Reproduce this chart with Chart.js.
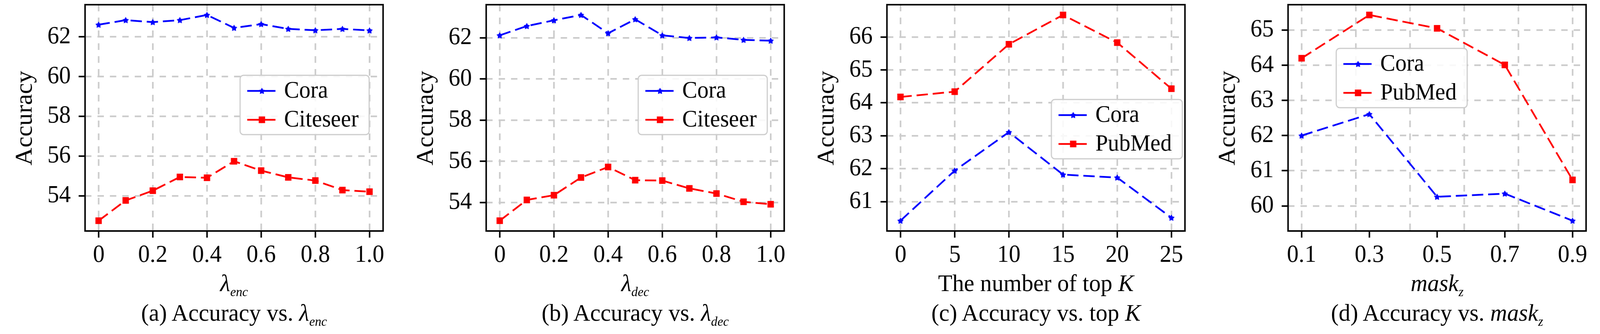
<!DOCTYPE html>
<html>
<head>
<meta charset="utf-8">
<script src="https://cdn.jsdelivr.net/npm/chart.js@4.4.1/dist/chart.umd.min.js"></script>
<style>
@font-face { font-family: "PlotSerif"; font-style: normal; font-weight: 400;
             src: local("Liberation Serif"), local("LiberationSerif"), local("LiberationSerif-Regular"); }
html, body { margin: 0; padding: 0; background: #fff; overflow: hidden; }
#root { position: absolute; left: 0; top: 0; width: 4252px; height: 856px;
        transform-origin: 0 0; background: #fff;
        font-family: "Liberation Serif", serif; color: #000; }
.panel { position: absolute; top: 0; width: 1055px; height: 856px; }
.panel canvas { position: absolute; left: 0; top: 0; }
.txt { position: absolute; left: 226px; width: 792px; text-align: center;
       font-size: 62px; line-height: 62px; white-space: nowrap; }
.xt { top: 694px; }
.cap { top: 770px; }
.sub { font-size: 34px; position: relative; top: 13px; line-height: 0; }
</style>
</head>
<body>
<div id="root">
<div class="panel" style="left:0px">
  <canvas id="ca" width="1055" height="856"></canvas>
  <div class="txt xt"><i>λ</i><i class="sub">enc</i></div>
  <div class="txt cap">(a) Accuracy vs. <i>λ</i><i class="sub">enc</i></div>
</div>
<div class="panel" style="left:1066px">
  <canvas id="cb" width="1055" height="856"></canvas>
  <div class="txt xt"><i>λ</i><i class="sub">dec</i></div>
  <div class="txt cap">(b) Accuracy vs. <i>λ</i><i class="sub">dec</i></div>
</div>
<div class="panel" style="left:2131px">
  <canvas id="cc" width="1055" height="856"></canvas>
  <div class="txt xt">The number of top <i>K</i></div>
  <div class="txt cap">(c) Accuracy vs. top <i>K</i></div>
</div>
<div class="panel" style="left:3197px">
  <canvas id="cd" width="1055" height="856"></canvas>
  <div class="txt xt"><i>mask</i><i class="sub">z</i></div>
  <div class="txt cap">(d) Accuracy vs. <i>mask</i><i class="sub">z</i></div>
</div>
</div>

<script>
// (a) lambda_enc
const xA = [0, 0.1, 0.2, 0.3, 0.4, 0.5, 0.6, 0.7, 0.8, 0.9, 1.0];
const coraA = [62.61, 62.84, 62.74, 62.84, 63.10, 62.45, 62.64, 62.40, 62.33, 62.40, 62.32];
const citeA = [52.75, 53.77, 54.26, 54.95, 54.91, 55.74, 55.27, 54.93, 54.77, 54.29, 54.21];

// (b) lambda_dec
const xB = [0, 0.1, 0.2, 0.3, 0.4, 0.5, 0.6, 0.7, 0.8, 0.9, 1.0];
const coraB = [62.12, 62.57, 62.85, 63.11, 62.22, 62.90, 62.12, 61.99, 62.02, 61.90, 61.86];
const citeB = [53.11, 54.12, 54.35, 55.21, 55.72, 55.08, 55.06, 54.68, 54.43, 54.03, 53.91];

// (c) top K
const xC = [0, 5, 10, 15, 20, 25];
const coraC = [60.42, 61.94, 63.11, 61.82, 61.73, 60.51];
const pubC = [64.18, 64.34, 65.78, 66.67, 65.83, 64.43];

// (d) mask_z
const xD = [0.1, 0.3, 0.5, 0.7, 0.9];
const coraD = [62.00, 62.61, 60.26, 60.35, 59.58];
const pubD = [64.20, 65.43, 65.05, 64.01, 60.74];

// ticks
const lamTicks = [0, 0.2, 0.4, 0.6, 0.8, 1.0];
const lamLabels = ['0', '0.2', '0.4', '0.6', '0.8', '1.0'];
const kTicks = [0, 5, 10, 15, 20, 25];
const kLabels = ['0', '5', '10', '15', '20', '25'];
const maskTicks = [0.1, 0.3, 0.5, 0.7, 0.9];
const maskLabels = ['0.1', '0.3', '0.5', '0.7', '0.9'];
const maskGrid = [0.1, 0.26, 0.42, 0.58, 0.74, 0.9];
const yTicksAB = [54, 56, 58, 60, 62];
const yTicksC = [61, 62, 63, 64, 65, 66];
const yTicksD = [60, 61, 62, 63, 64, 65];

const FAMILY = 'PlotSerif, "Liberation Serif", serif';
const BLUE = '#0000ff';
const RED = '#ff0000';
const GRID = '#cccccc';

// the window may be narrower than the 4252px design, so squeeze it to fit
const root = document.getElementById('root');
root.style.transform = 'scale(' + (window.innerWidth / 4252) + ',' + (window.innerHeight / 856) + ')';

function span(vals) {
  const lo = Math.min(...vals), hi = Math.max(...vals);
  const m = (hi - lo) * 0.05;
  return [lo - m, hi + m];
}

function starImg(color) {
  const c = document.createElement('canvas');
  c.width = c.height = 20;
  const g = c.getContext('2d');
  g.fillStyle = color;
  g.beginPath();
  for (let i = 0; i < 10; i++) {
    const a = -Math.PI / 2 + i * Math.PI / 5;
    const r = i % 2 ? 5 : 9;
    g.lineTo(10 + r * Math.cos(a), 10.8 + r * Math.sin(a));
  }
  g.closePath();
  g.fill();
  return c;
}
const star = starImg(BLUE);

const frameLegend = {
  id: 'frameLegend',
  afterDraw(chart, args, opts) {
    const ctx = chart.ctx, a = chart.chartArea;
    ctx.save();
    ctx.setLineDash([]);
    ctx.lineWidth = 4;
    ctx.strokeStyle = '#000';
    ctx.strokeRect(a.left, a.top, a.right - a.left, a.bottom - a.top);

    const sets = chart.data.datasets;
    ctx.font = '60px ' + FAMILY;
    const tw = Math.max(...sets.map(d => ctx.measureText(d.label).width));
    const x0 = a.left + opts.dx, y0 = a.top + opts.dy;
    const w = 117 + tw + 28, h = 152, r = 9;
    ctx.beginPath();
    ctx.moveTo(x0 + r, y0);
    ctx.arcTo(x0 + w, y0, x0 + w, y0 + h, r);
    ctx.arcTo(x0 + w, y0 + h, x0, y0 + h, r);
    ctx.arcTo(x0, y0 + h, x0, y0, r);
    ctx.arcTo(x0, y0, x0 + w, y0, r);
    ctx.closePath();
    ctx.fillStyle = 'rgba(255,255,255,0.85)';
    ctx.fill();
    ctx.lineWidth = 3;
    ctx.strokeStyle = GRID;
    ctx.stroke();

    sets.forEach((d, i) => {
      const y = y0 + 40 + i * 74;
      ctx.strokeStyle = d.borderColor;
      ctx.lineWidth = 4.5;
      ctx.beginPath();
      ctx.moveTo(x0 + 19, y);
      ctx.lineTo(x0 + 94, y);
      ctx.stroke();
      const mx = x0 + 58;
      if (d.pointStyle === 'rect') {
        ctx.fillStyle = d.borderColor;
        ctx.fillRect(mx - 8.5, y - 8.5, 17, 17);
      } else {
        ctx.drawImage(d.pointStyle, mx - 10, y - 10);
      }
      ctx.fillStyle = '#000';
      ctx.textBaseline = 'middle';
      ctx.textAlign = 'left';
      ctx.fillText(d.label, x0 + 117, y + 1);
    });
    ctx.restore();
  }
};

function gridOpts(onArea, ticks) {
  return {
    display: true, drawOnChartArea: onArea, drawTicks: ticks,
    color: GRID, lineWidth: 4.3,
    tickLength: 17, tickWidth: 4, tickColor: '#000'
  };
}

function build(id, xs, cora, other, otherName, xTicks, xLabels, yTicks, legendAt, xGrid) {
  const xr = span(xs), yr = span(cora.concat(other));
  const scales = {
    x: {
      type: 'linear', position: 'bottom', bounds: 'data', min: xr[0], max: xr[1],
      afterBuildTicks: s => { s.ticks = xTicks.map(v => ({ value: v })); },
      afterFit: s => { s.height = 264; s.paddingLeft = 0; s.paddingRight = 0; },
      ticks: { callback: (v, i) => xLabels[i], font: { family: FAMILY, size: 62 }, color: '#000',
               padding: 9, maxRotation: 0, autoSkip: false },
      grid: gridOpts(!xGrid, true),
      border: { display: false, dash: [17, 16] }
    },
    y: {
      type: 'linear', position: 'left', bounds: 'data', min: yr[0], max: yr[1],
      afterBuildTicks: s => { s.ticks = yTicks.map(v => ({ value: v })); },
      afterFit: s => { s.width = 226; s.paddingTop = 0; s.paddingBottom = 0; },
      ticks: { callback: v => String(v), font: { family: FAMILY, size: 62 }, color: '#000',
               padding: 21, autoSkip: false },
      title: { display: true, text: 'Accuracy', color: '#000',
               font: { family: FAMILY, size: 63 }, padding: { top: 30, bottom: 0 } },
      grid: gridOpts(true, true),
      border: { display: false, dash: [17, 16] }
    }
  };
  if (xGrid) {
    scales.xg = {
      type: 'linear', position: 'bottom', bounds: 'data', min: xr[0], max: xr[1],
      afterBuildTicks: s => { s.ticks = xGrid.map(v => ({ value: v })); },
      afterFit: s => { s.height = 0; s.paddingLeft = 0; s.paddingRight = 0; },
      ticks: { display: false },
      grid: gridOpts(true, false),
      border: { display: false, dash: [17, 16] }
    };
  }
  const line = (label, ys, color, style, radius) => ({
    label: label,
    data: xs.map((x, i) => ({ x: x, y: ys[i] })),
    borderColor: color,
    backgroundColor: color,
    borderWidth: 4.5,
    borderDash: [30, 13],
    pointStyle: style,
    pointRadius: radius,
    pointBackgroundColor: color,
    pointBorderColor: color,
    pointBorderWidth: 0,
    tension: 0,
    fill: false
  });
  return new Chart(document.getElementById(id), {
    type: 'line',
    data: {
      datasets: [
        line('Cora', cora, BLUE, star, 10),
        line(otherName, other, RED, 'rect', 12)
      ]
    },
    options: {
      responsive: false,
      animation: false,
      devicePixelRatio: 1,
      layout: { padding: { left: 0, top: 2, right: 37, bottom: 0 } },
      scales: scales,
      plugins: {
        legend: { display: false },
        tooltip: { enabled: false },
        frameLegend: legendAt
      }
    },
    plugins: [frameLegend]
  });
}

function drawAll() {
  build('ca', xA, coraA, citeA, 'Citeseer', lamTicks, lamLabels, yTicksAB, { dx: 412, dy: 181 });
  build('cb', xB, coraB, citeB, 'Citeseer', lamTicks, lamLabels, yTicksAB, { dx: 404, dy: 181 });
  build('cc', xC, coraC, pubC, 'PubMed', kTicks, kLabels, yTicksC, { dx: 437, dy: 243 });
  build('cd', xD, coraD, pubD, 'PubMed', maskTicks, maskLabels, yTicksD, { dx: 128, dy: 112 }, maskGrid);
}

// load the local serif face for the canvases before anything is drawn
document.fonts.load('62px PlotSerif').then(drawAll, drawAll);
</script>
</body>
</html>
